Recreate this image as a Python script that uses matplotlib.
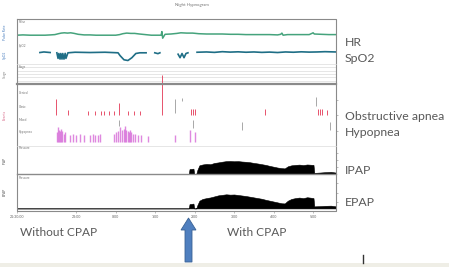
import numpy as np
import matplotlib
matplotlib.use("Agg")
import matplotlib.pyplot as plt
from matplotlib.patches import FancyArrow

nan = np.nan

# time axis: hours since 21:30
tick_hours = [0, 1.5, 2.5, 3.5, 4.5, 5.5, 6.5, 7.5]
tick_labels = ["21:30:00", "23:00", "0:00", "1:00", "2:00", "3:00", "4:00", "5:00"]
t_end = 8.08

# heart rate (bpm)
hr_t = [0.00, 0.15, 0.33, 0.50, 0.71, 0.85, 0.96, 1.05, 1.12, 1.20, 1.28, 1.36, 1.45, 1.55,
        1.70, 1.85, 2.00, 2.15, 2.35, 2.50, 2.60, 2.68, 2.78, 2.88, 2.98, 3.10, 3.25, 3.40,
        3.55, 3.65, 3.67, 3.69, 3.75, 3.90, 4.05, 4.15, 4.30, 4.45, 4.60, 4.80, 5.00, 5.20,
        5.40, 5.60, 5.80, 6.00, 6.20, 6.40, 6.60, 6.68, 6.71, 6.74, 6.85, 7.00, 7.20, 7.40,
        7.47, 7.50, 7.53, 7.70, 7.90, 8.08]
hr_v = [66, 67, 66, 66, 66, 67, 68, 71, 73, 74, 73, 74, 72, 69,
        67, 67, 66, 66, 66, 66, 68, 71, 73, 72, 72, 70, 68, 66,
        66, 66, 78, 56, 69, 70, 72, 74, 73, 73, 71, 70, 70, 70,
        69, 69, 68, 68, 68, 68, 67, 69, 73, 66, 68, 68, 68, 68,
        72, 74, 70, 69, 68, 68]

# SpO2 (%)
spo2_t = [0.58, 0.68, 0.84, 0.90,
          1.01, 1.04, 1.06, 1.09, 1.11, 1.14, 1.16, 1.19, 1.22, 1.24, 1.29, 1.47, 1.85, 2.23,
          2.56, 2.61, 2.71, 2.81, 2.91, 3.01, 3.11, 3.27, 3.30,
          3.49, 3.57, 3.62, 3.65,
          4.08, 4.13, 4.18, 4.23, 4.28, 4.33, 4.40,
          4.56, 4.80, 5.00, 5.20, 5.40, 5.60, 5.80, 6.00, 6.20, 6.40, 6.60, 6.80, 7.00, 7.20,
          7.40, 7.60, 7.80, 8.08]
spo2_v = [93.2, 93.6, 93.2, nan,
          93.0, 89.0, 92.5, 88.5, 92.5, 88.5, 92.5, 88.5, 92.6, 89.0, 93.0, 93.4, 93.2, 93.4,
          93.0, 91.0, 88.0, 87.5, 89.5, 92.5, 93.0, 93.0, nan,
          93.0, 92.4, 93.0, nan,
          92.0, 89.5, 92.5, 89.5, 92.5, 93.0, nan,
          93.4, 93.6, 93.3, 93.8, 93.5, 93.7, 93.4, 93.6, 93.3, 93.5, 93.2, 93.6, 93.4, 93.7,
          93.5, 93.6, 93.8, 93.6]

# respiratory events (channel level: 4 central, 3 obstructive, 2 mixed, 1 hypopnea)
obs_t = [0.99, 1.29, 1.80, 1.97, 2.13, 2.20, 2.33, 2.46, 2.58, 2.81, 2.96, 3.11, 3.67,
         4.41, 4.46, 4.51, 6.28, 7.62, 7.67, 7.72, 7.85]
obs_top = [3.8, 2.9, 2.8, 2.8, 2.8, 2.8, 2.8, 2.8, 3.5, 2.8, 2.8, 2.8, 5.7,
           3.0, 3.0, 3.0, 3.0, 3.0, 3.0, 3.0, 2.9]
other_t = [2.58, 4.00, 4.18, 4.46, 5.70, 7.57, 7.92]
other_lo = [1.6, 2.7, 3.6, 1.45, 1.3, 3.2, 1.3]
other_hi = [2.1, 3.8, 3.85, 2.1, 1.9, 3.95, 1.9]
hyp_t = [1.02, 1.05, 1.07, 1.09, 1.12, 1.15, 1.18, 1.22, 1.34, 1.42, 1.50, 1.59, 1.70,
         1.85, 1.92, 1.97, 2.04, 2.10, 2.45, 2.50, 2.56, 2.61, 2.66, 2.70, 2.73, 2.76,
         2.80, 2.83, 2.86, 2.90, 2.94, 2.99, 3.06, 3.14, 3.32, 4.00, 4.38, 4.51]
hyp_top = [1.1, 1.5, 1.3, 1.2, 1.4, 1.2, 1.0, 1.1, 0.9, 1.0, 0.9, 1.0, 0.9,
           0.9, 1.0, 0.9, 0.9, 1.0, 1.0, 1.1, 1.2, 1.5, 1.3, 1.4, 1.6, 1.3,
           1.2, 1.1, 1.3, 1.1, 1.0, 1.0, 0.9, 0.9, 0.8, 0.9, 1.3, 1.1]

# CPAP pressures (cmH2O)
pap_t = [0.00, 4.35, 4.37, 4.47, 4.49, 4.54, 4.57, 4.62, 4.70, 4.80, 4.90, 5.00, 5.10, 5.20,
         5.30, 5.40, 5.50, 5.60, 5.70, 5.80, 5.90, 6.00, 6.10, 6.20, 6.30, 6.40, 6.50, 6.60,
         6.70, 6.78, 6.86, 6.95, 7.05, 7.15, 7.25, 7.35, 7.45, 7.51, 7.53, 7.65, 7.80, 7.95, 8.08]
ipap_v = [0, 0, 3.5, 3.8, 0, 0, 3.0, 6.2, 6.8, 7.2, 7.0, 7.9, 8.3, 8.8,
          9.2, 9.3, 9.1, 9.2, 8.9, 8.7, 8.4, 7.9, 7.5, 7.0, 6.5, 5.8, 5.2, 4.6,
          4.2, 4.0, 5.5, 6.2, 6.5, 6.7, 6.4, 6.8, 6.6, 6.5, 0.8, 1.0, 1.3, 1.5, 1.0]
epap_v = [0, 0, 2.5, 2.8, 0, 0, 2.0, 4.5, 5.5, 6.0, 6.4, 7.0, 7.6, 7.9,
          8.2, 8.0, 8.1, 7.8, 7.5, 7.2, 6.8, 6.4, 6.0, 5.6, 5.0, 4.5, 4.0, 3.5,
          3.0, 2.9, 4.5, 5.5, 6.0, 6.3, 6.0, 6.5, 6.2, 6.0, 1.2, 1.3, 1.5, 1.6, 1.2]

right_labels = [("HR", 42), ("SpO2", 59), ("Obstructive apnea", 116),
                ("Hypopnea", 132), ("IPAP", 170), ("EPAP", 203)]

W, H = 449, 267
L, R = 17, 336
GRID = "#dcdcdc"
FRAME = "#8a8a8a"
TXT = "#595959"

plt.rcParams["font.family"] = ["Lato", "DejaVu Sans"]
fig = plt.figure(figsize=(W / 100, H / 100), dpi=100)


def row(top, bottom):
    ax = fig.add_axes([L / W, 1 - bottom / H, (R - L) / W, (bottom - top) / H])
    ax.set_xlim(0, t_end)
    ax.set_xticks([])
    ax.set_yticks([])
    for s in ax.spines.values():
        s.set_visible(False)
    ax.patch.set_alpha(0)
    return ax


ax_hr = row(19, 43)
ax_hr.plot(hr_t, hr_v, color="#45a37c", lw=1.1)
ax_hr.set_ylim(40, 120)

ax_sp = row(43, 64)
ax_sp.plot(spo2_t, spo2_v, color="#1f6e86", lw=1.2)
ax_sp.set_ylim(85, 100)

ax_st = row(64, 84)
ax_st.set_ylim(0, 6)
for lv in (1, 2, 3, 4, 5):
    ax_st.axhline(lv, color=GRID, lw=0.5)

ax_ev = row(84, 146)
ax_ev.set_ylim(0, 5)
ax_ev.vlines(obs_t, 2.5, obs_top, color="#e4405c", lw=0.7, alpha=0.9, clip_on=False)
ax_ev.vlines(other_t, other_lo, other_hi, color="#9a9a9a", lw=0.6)
ax_ev.vlines(hyp_t, 0.32, hyp_top, color="#d66ad8", lw=1.0, alpha=0.8)

ax_ip = row(146, 174)
ax_ip.set_ylim(0, 20)
ax_ip.fill_between(pap_t, 0, ipap_v, color="black", lw=0.4)

ax_ep = row(174, 211)
ax_ep.set_ylim(-1.5, 20)
ax_ep.fill_between(pap_t, 0, epap_v, color="black", lw=0.4)

for ax in (ax_ev, ax_ip, ax_ep):
    ax.yaxis.tick_right()
    ax.set_yticks(np.linspace(*ax.get_ylim(), 5)[1:-1])
    ax.tick_params(axis="y", length=1.5, width=0.4, color=FRAME, labelright=False)

ax_ep.set_xticks(tick_hours)
ax_ep.set_xticklabels(tick_labels, fontsize=2.6, color="#666")
ax_ep.tick_params(axis="x", length=1.2, width=0.4, color=FRAME, pad=1.5)

# overlay in pixel coordinates for frame, annotations and arrow
ov = fig.add_axes([0, 0, 1, 1])
ov.set_xlim(0, W)
ov.set_ylim(H, 0)
ov.axis("off")
ov.patch.set_alpha(0)

ov.plot([L, R, R, L, L], [19, 19, 211, 211, 19], color=FRAME, lw=0.8)
ov.plot([L, R], [84, 84], color=FRAME, lw=1.6)
ov.plot([L, R], [64, 64], color=GRID, lw=0.5)
ov.plot([L, R], [146, 146], color=GRID, lw=0.5)
ov.plot([L, R], [174, 174], color=FRAME, lw=1.0)
ov.axhspan(263, H, color="#efeee6", lw=0)

ov.text(192, 5, "Night Hypnogram", fontsize=3.2, color="#777", ha="center", va="center")
for lab, y in [("Pulse", 22), ("SpO2", 46), ("Stage", 67), ("Central", 93),
               ("Obstr.", 107), ("Mixed", 120), ("Hypopnea", 132),
               ("Pressure", 148), ("Pressure", 178)]:
    ov.text(19, y, lab, fontsize=2.2, color="#777", va="center")
for lab, y, c in [("Pulse Rate", 32, "#4a7fbf"), ("SpO2", 55, "#4a7fbf"),
                  ("Stage", 74, "#888"), ("Events", 115, "#d86a8a"),
                  ("IPAP", 160, "#555"), ("EPAP", 192, "#555")]:
    ov.text(5, y, lab, fontsize=2.4, color=c, rotation=90, ha="center", va="center")

for lab, y in right_labels:
    ov.text(345, y, lab, fontsize=8.8, color=TXT, va="center", ha="left")

ov.text(20, 232, "Without CPAP", fontsize=8.6, color=TXT, va="center", ha="left")
ov.text(227, 232, "With CPAP", fontsize=8.6, color=TXT, va="center", ha="left")

ov.add_patch(FancyArrow(188.5, 262, 0, -44, width=7, head_width=15, head_length=12,
                        length_includes_head=True, fc="#4f7fbf", ec="#3a6294", lw=0.6))
ov.plot([363, 363], [255, 263], color="#333", lw=1.0)

fig.savefig("out.png", dpi=100)
